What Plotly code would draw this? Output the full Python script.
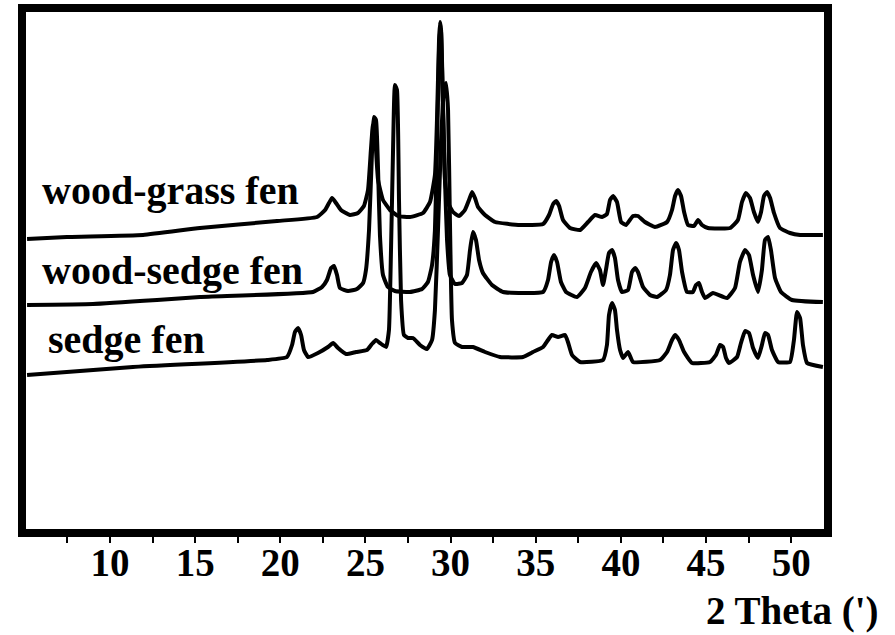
import plotly.graph_objects as go

# ---- data (2θ in degrees, intensity in a.u. with stacking offset included) ----
wg_theta = [5.13, 7.47, 11.94, 15.28, 19.81, 22.16, 22.63, 22.86, 23.04, 23.27, 23.56, 24.09, 24.56, 24.91,
            25.15, 25.32, 25.44, 25.56, 25.74, 26.03, 26.44, 26.91, 27.61, 28.38, 28.79, 29.08, 29.20, 29.32,
            29.38, 29.44, 29.55, 29.67, 29.85, 30.14, 30.49, 30.84, 31.08, 31.26, 31.43, 31.61, 32.02, 32.61,
            34.08, 35.43, 35.78, 36.02, 36.20, 36.37, 36.60, 37.01, 37.60, 38.07, 38.48, 38.89, 39.18, 39.36,
            39.54, 39.77, 40.01, 40.30, 40.71, 41.00, 41.41, 42.00, 42.71, 43.00, 43.18, 43.35, 43.53, 43.71,
            43.94, 44.29, 44.53, 44.76, 45.11, 46.41, 46.87, 47.11, 47.34, 47.58, 47.81, 48.05, 48.23, 48.40,
            48.58, 48.76, 48.99, 49.34, 49.93, 50.52, 51.86]
wg_int = [296, 298, 300, 307, 314, 318, 325, 332, 337, 332, 325, 320, 322, 329,
          345, 385, 410, 400, 355, 335, 325, 319, 318, 322, 333, 360, 415, 495,
          513, 505, 425, 355, 332, 323, 319, 325, 335, 343, 337, 328, 320, 313,
          310, 311, 320, 331, 334, 329, 315, 307, 305, 313, 320, 318, 321, 335,
          339, 333, 313, 310, 319, 319, 313, 308, 313, 325, 339, 345, 339, 323,
          310, 309, 315, 310, 307, 307, 315, 333, 342, 337, 323, 313, 323, 339,
          343, 337, 322, 307, 302, 300, 300]

ws_theta = [5.13, 9.00, 12.76, 15.28, 21.92, 22.45, 22.74, 22.98, 23.15, 23.33, 23.50, 23.98, 24.50, 24.86,
            25.03, 25.21, 25.39, 25.50, 25.62, 25.74, 25.85, 26.03, 26.32, 26.73, 27.61, 28.32, 28.67, 28.91,
            29.08, 29.20, 29.32, 29.38, 29.44, 29.55, 29.67, 29.79, 29.96, 30.26, 30.67, 30.96, 31.14, 31.31,
            31.49, 31.67, 31.90, 32.43, 33.08, 35.43, 35.72, 35.90, 36.07, 36.25, 36.48, 36.78, 37.42, 37.89,
            38.24, 38.54, 38.77, 38.95, 39.12, 39.30, 39.48, 39.65, 39.83, 40.06, 40.42, 40.65, 40.83, 41.00,
            41.30, 41.71, 42.12, 42.65, 42.88, 43.06, 43.24, 43.41, 43.59, 43.88, 44.23, 44.41, 44.58, 44.76,
            44.94, 45.41, 46.23, 46.70, 46.99, 47.29, 47.52, 47.76, 48.05, 48.28, 48.46, 48.64, 48.81, 49.05,
            49.40, 50.05, 51.86]
ws_int = [230, 231, 235, 238, 243, 248, 255, 267, 269, 260, 247, 244, 246, 252,
          265, 305, 385, 418, 415, 365, 300, 260, 248, 244, 243, 246, 253, 270,
          305, 385, 485, 507, 503, 435, 355, 295, 260, 251, 252, 260, 285, 303,
          295, 275, 262, 250, 243, 243, 255, 273, 280, 273, 253, 243, 238, 247,
          263, 272, 265, 250, 265, 282, 285, 277, 255, 243, 245, 263, 267, 263,
          248, 240, 238, 245, 260, 285, 292, 285, 263, 243, 243, 250, 252, 243,
          237, 242, 237, 247, 273, 285, 280, 260, 243, 265, 295, 298, 285, 257,
          243, 235, 233]

sf_theta = [5.13, 11.35, 19.22, 20.39, 20.69, 20.86, 21.04, 21.22, 21.39, 21.63, 22.21, 22.80, 23.10, 23.39,
            23.86, 24.45, 25.09, 25.38, 25.62, 25.85, 26.21, 26.38, 26.50, 26.62, 26.73, 26.85, 26.97, 27.09,
            27.26, 27.50, 27.79, 28.20, 28.61, 28.91, 29.08, 29.26, 29.44, 29.62, 29.73, 29.85, 29.96, 30.08,
            30.26, 30.67, 31.31, 32.02, 32.90, 34.25, 34.84, 35.43, 35.72, 35.95, 36.31, 36.72, 36.89, 37.13,
            37.60, 38.95, 39.18, 39.30, 39.48, 39.65, 39.77, 39.95, 40.13, 40.42, 40.71, 42.30, 42.71, 43.00,
            43.18, 43.41, 43.71, 44.18, 45.23, 45.58, 45.82, 46.00, 46.17, 46.35, 46.82, 47.05, 47.29, 47.52,
            47.76, 48.05, 48.28, 48.46, 48.64, 48.87, 49.23, 49.93, 50.16, 50.34, 50.52, 50.69, 50.93, 51.86]
sf_int = [160, 168, 175, 178, 190, 203, 207, 200, 185, 178, 182, 188, 192, 187,
          181, 183, 185, 191, 195, 192, 188, 205, 285, 385, 450, 445, 335, 235,
          200, 197, 197, 190, 186, 195, 225, 305, 395, 447, 452, 425, 315, 215,
          192, 188, 188, 183, 178, 178, 183, 188, 195, 200, 198, 200, 193, 180,
          173, 175, 190, 220, 232, 225, 205, 185, 177, 183, 173, 175, 183, 195,
          200, 195, 183, 172, 173, 180, 190, 188, 177, 172, 178, 192, 204, 202,
          187, 177, 190, 202, 200, 185, 173, 173, 195, 223, 217, 190, 172, 168]

series_names = ["wood-grass fen", "wood-sedge fen", "sedge fen"]
label_theta = [5.89, 5.89, 6.24]
label_int = [345, 265, 196]

tick_vals = [7.5, 10, 12.5, 15, 17.5, 20, 22.5, 25, 27.5, 30, 32.5, 35, 37.5, 40, 42.5, 45, 47.5, 50]
tick_text = ["", "10", "", "15", "", "20", "", "25", "", "30", "", "35", "", "40", "", "45", "", "50"]
x_title = "2 Theta (')"

FONT = "Liberation Serif, Times New Roman, serif"

fig = go.Figure()
for th, it, nm in zip([wg_theta, ws_theta, sf_theta], [wg_int, ws_int, sf_int], series_names):
    fig.add_trace(go.Scatter(x=th, y=it, mode="lines", name=nm,
                             line=dict(color="black", width=4, shape="spline", smoothing=0.4),
                             showlegend=False))

for nm, lx, ly in zip(series_names, label_theta, label_int):
    fig.add_annotation(x=lx, y=ly, xref="x", yref="y", text=nm, showarrow=False,
                       xanchor="left", yanchor="middle",
                       font=dict(family=FONT, size=40, color="black", weight="bold"))

fig.add_annotation(x=1.0645, y=-0.192, xref="paper", yref="paper", text=x_title, showarrow=False,
                   xanchor="right", yanchor="bottom", borderpad=0,
                   font=dict(family=FONT, size=39, color="black", weight="bold"))

fig.add_shape(type="rect", xref="paper", yref="paper", x0=0, x1=1, y0=0, y1=1,
              line=dict(color="black", width=8), fillcolor="rgba(0,0,0,0)", layer="above")

fig.update_xaxes(range=[4.833, 52.16], tickmode="array", tickvals=tick_vals, ticktext=tick_text,
                 ticks="outside", ticklen=9, tickwidth=2, tickcolor="black",
                 ticklabelstandoff=-14,
                 showline=False, showgrid=False, zeroline=False,
                 tickfont=dict(family=FONT, size=39, color="black", weight="bold"))
fig.update_yaxes(range=[2, 527], showticklabels=False, ticks="", showgrid=False,
                 zeroline=False, showline=False)

fig.update_layout(width=895, height=635, autosize=False,
                  margin=dict(l=22, r=67, t=8, b=102, pad=0),
                  plot_bgcolor="white", paper_bgcolor="white")

fig.write_html("out.html")
